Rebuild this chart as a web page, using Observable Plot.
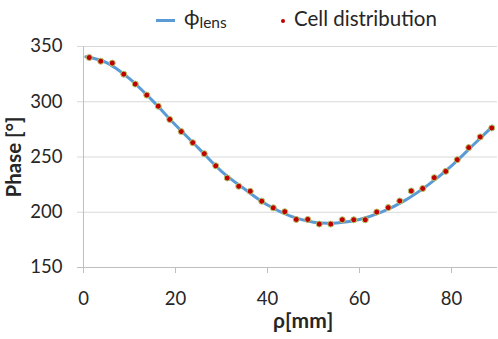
<!DOCTYPE html>
<html>
<head>
<meta charset="utf-8">
<script src="https://cdn.jsdelivr.net/npm/d3@7"></script>
<script src="https://cdn.jsdelivr.net/npm/@observablehq/plot@0.6"></script>
<style>
  html, body { margin: 0; padding: 0; background: #fff; }
  #wrap { position: relative; width: 498px; height: 339px; font-family: Lato, "Open Sans", sans-serif; color: #262626; }
  #legend { position: absolute; left: 0; top: 0; width: 498px; height: 40px; }
  .sw-line { position: absolute; left: 156px; top: 19px; width: 19px; height: 3px; background: #5B9BD5; }
  .lbl1 { position: absolute; left: 184px; top: 4px; font-size: 21px; white-space: nowrap; }
  .lbl1 sub { font-size: 15.5px; vertical-align: -3px; }
  .sw-dot { position: absolute; left: 281px; top: 19px; width: 4px; height: 4px; border-radius: 50%; background: #C00000; }
  .lbl2 { position: absolute; left: 294px; top: 6px; font-size: 20.5px; white-space: nowrap; }
  #xtitle { position: absolute; left: 273px; top: 309px; font-size: 21px; font-weight: bold; white-space: nowrap; line-height: 1; }
</style>
</head>
<body>
<div id="wrap">
  <div id="chart"></div>
  <div id="legend">
    <div class="sw-line"></div>
    <div class="lbl1">ϕ<sub>lens</sub></div>
    <div class="sw-dot"></div>
    <div class="lbl2">Cell distribution</div>
  </div>
  <div id="xtitle">ρ[mm]</div>
</div>
<script>
// Cell distribution (measured points)
const cellRho = [1.25, 3.75, 6.25, 8.75, 11.25, 13.75, 16.25, 18.75, 21.25, 23.75, 26.25, 28.75,
  31.25, 33.75, 36.25, 38.75, 41.25, 43.75, 46.25, 48.75, 51.25, 53.75, 56.25, 58.75,
  61.25, 63.75, 66.25, 68.75, 71.25, 73.75, 76.25, 78.75, 81.25, 83.75, 86.25, 88.75];
const cellPhase = [340, 336.7, 335, 325, 316, 306, 296, 284, 273, 263, 253, 242,
  231, 223.5, 219, 210, 204, 200.5, 193.5, 193.5, 189.3, 189.3, 193.2, 193.2,
  193.2, 200.2, 204.2, 210.2, 219.3, 221.5, 231.3, 237, 247.6, 258.5, 268.2, 276.3];
// Phi_lens curve samples
const lensRho = [0.5, 5, 10, 15, 20, 25, 30, 35, 40, 45, 50, 55, 60, 65, 70, 75, 80, 85, 89];
const lensPhase = [340.8, 335.5, 321, 301, 279, 258, 237, 221, 206.5, 196.5, 191, 190.3, 193.5, 200.5, 211, 225, 242, 262, 278];
// Axis ticks
const xTicks = [0, 20, 40, 60, 80];
const yTicks = [150, 200, 250, 300, 350];
const yGrid = [200, 250, 300, 350];

const cells = cellRho.map((r, i) => ({rho: r, phase: cellPhase[i]}));
const lens = lensRho.map((r, i) => ({rho: r, phase: lensPhase[i]}));

const chart = Plot.plot({
  width: 498,
  height: 339,
  marginLeft: 83,
  marginRight: 1,
  marginTop: 46,
  marginBottom: 72,
  style: {fontFamily: "Lato, 'Open Sans', sans-serif", background: "#fff", color: "#262626"},
  x: {domain: [0, 90]},
  y: {domain: [150, 350]},
  marks: [
    Plot.ruleY(yGrid, {stroke: "#d9d9d9", strokeWidth: 1, insetLeft: -6}),
    Plot.ruleY([150], {stroke: "#bfbfbf", strokeWidth: 1, insetLeft: -6}),
    Plot.ruleX([0], {stroke: "#bfbfbf", strokeWidth: 1}),
    Plot.axisX({ticks: xTicks, tickSize: 6, stroke: "#bfbfbf", tickFormat: () => "", label: null}),
    Plot.axisX({ticks: xTicks, tickSize: 0, tickPadding: 24, fontSize: 18.5, fill: "#262626", label: null}),
    Plot.axisY({ticks: yTicks, tickSize: 0, tickPadding: 21, fontSize: 18.5, fill: "#262626", label: null}),
    Plot.axisY({ticks: [], label: "Phase [°]", labelAnchor: "center", labelArrow: "none", labelOffset: 77, fontSize: 20.5, fontWeight: "bold", fill: "#262626"}),
    Plot.line(lens, {x: "rho", y: "phase", stroke: "#5B9BD5", strokeWidth: 3, curve: "catmull-rom"}),
    Plot.dot(cells, {x: "rho", y: "phase", r: 3, fill: "#C00000", stroke: "#B4C86A", strokeWidth: 1})
  ]
});
document.getElementById("chart").appendChild(chart);
</script>
</body>
</html>
